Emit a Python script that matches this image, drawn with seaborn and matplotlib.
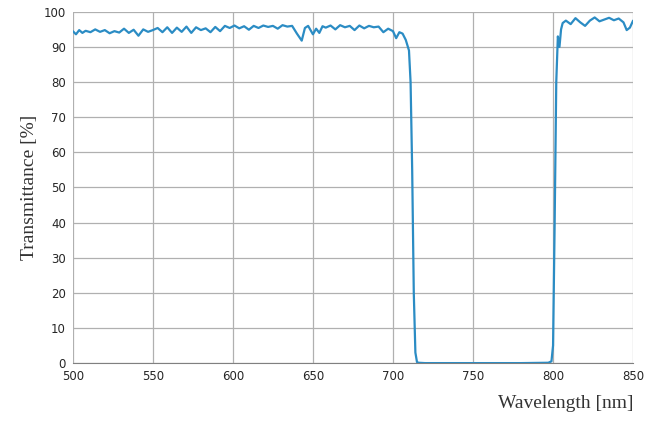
import matplotlib
matplotlib.use("Agg")
import matplotlib.pyplot as plt
import seaborn as sns
import numpy as np

# wavelength [nm] and transmittance [%]
wavelength = [500, 502, 504, 506, 508, 511, 514, 517, 520, 523, 526, 529, 532, 535, 538, 541,
              544, 547, 550, 553, 556, 559, 562, 565, 568, 571, 574, 577, 580, 583, 586, 589,
              592, 595, 598, 601, 604, 607, 610, 613, 616, 619, 622, 625, 628, 631, 634, 637,
              640, 643, 645, 647, 650, 652, 654, 656, 658, 661, 664, 667, 670, 673, 676, 679,
              682, 685, 688, 691, 694, 697, 700, 702, 704, 706, 708, 710, 711, 712, 713, 714,
              715, 716, 720, 740, 760, 780, 797, 799, 800, 801, 802, 803, 804, 805, 806, 808,
              811, 814, 817, 820, 823, 826, 829, 832, 835, 838, 841, 844, 846, 848, 850]
transmittance = [94.5, 93.6, 94.8, 94.0, 94.6, 94.2, 95.0, 94.3, 94.8, 93.9, 94.5, 94.1, 95.2, 94.0, 94.9, 93.2,
                 95.0, 94.3, 94.8, 95.4, 94.2, 95.6, 94.0, 95.5, 94.3, 95.8, 94.0, 95.6, 94.8, 95.3, 94.2, 95.7,
                 94.5, 96.0, 95.4, 96.1, 95.3, 95.9, 94.9, 96.0, 95.4, 96.1, 95.7, 96.0, 95.2, 96.2, 95.8, 96.0,
                 93.8, 91.8, 95.4, 96.0, 93.6, 95.2, 94.0, 95.9, 95.5, 96.1, 95.0, 96.2, 95.6, 96.0, 94.8, 96.1,
                 95.3, 96.0, 95.6, 95.8, 94.2, 95.2, 94.5, 92.5, 94.2, 93.8, 92.0, 89.0, 80.0, 55.0, 20.0, 3.0,
                 0.3, 0.1, 0.0, 0.0, 0.0, 0.0, 0.1, 0.5, 5.0, 40.0, 80.0, 93.0, 90.0, 95.0, 96.8, 97.5,
                 96.5, 98.2, 97.0, 96.0, 97.5, 98.4, 97.3, 97.8, 98.3, 97.6, 98.1, 97.0, 94.8, 95.5, 97.5]

sns.set_style("white")
fig, ax = plt.subplots(figsize=(6.5, 4.38), dpi=100)
sns.lineplot(x=wavelength, y=transmittance, ax=ax, color="#2b8cc4", linewidth=1.6)

ax.set_xlim(500, 850)
ax.set_ylim(0, 100)
ax.set_xticks(range(500, 851, 50))
ax.set_yticks(range(0, 101, 10))
ax.grid(True, color="#b0b0b0", linewidth=0.9)
for s in ["top", "right", "left"]:
    ax.spines[s].set_visible(False)
ax.spines["bottom"].set_color("#808080")
ax.tick_params(axis="both", labelsize=8.5, length=0, pad=5)

ax.set_ylabel("Transmittance [%]", family="Liberation Serif", fontsize=14, color="#333333")
ax.set_xlabel("Wavelength [nm]", family="Liberation Serif", fontsize=14, color="#333333")
ax.xaxis.set_label_coords(1.0, -0.09)
ax.xaxis.label.set_horizontalalignment("right")

fig.subplots_adjust(left=0.112, right=0.974, top=0.973, bottom=0.171)
fig.savefig("out.png", dpi=100)
